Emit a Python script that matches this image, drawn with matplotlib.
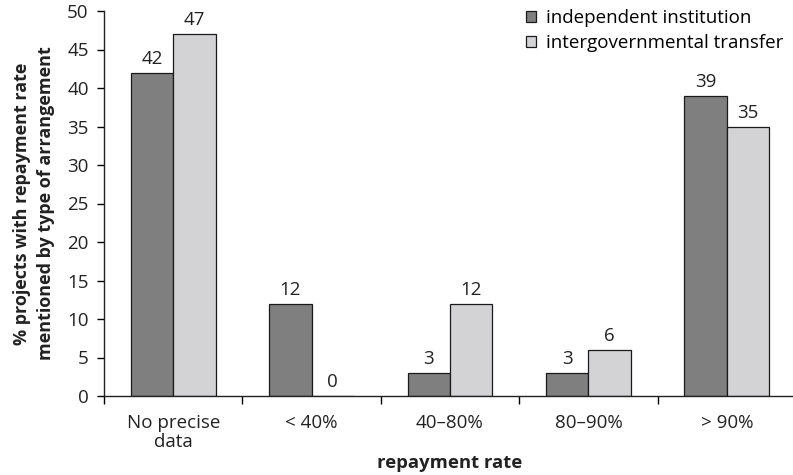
import matplotlib
matplotlib.use("Agg")
import matplotlib.pyplot as plt
from matplotlib.patches import Patch
import numpy as np

plt.rcParams['font.family'] = ['Open Sans', 'DejaVu Sans']

categorias = ["No precise\ndata", "< 40%", "40\u201380%", "80\u201390%", "> 90%"]
independiente = [42, 12, 3, 3, 39]
intergubernamental = [47, 0, 12, 6, 35]
series_nombres = ["independent institution", "intergovernmental transfer"]
color_oscuro = "#7f7f80"
color_claro = "#d3d3d5"

fig = plt.figure(figsize=(7.93, 4.75), dpi=100)
ax = fig.add_axes([104 / 793, 79 / 475, 692 / 793, 385 / 475])

x = np.arange(len(categorias))
ancho = 0.307

b1 = ax.bar(x - ancho / 2, independiente, ancho, color=color_oscuro,
            edgecolor="#1a1a1a", linewidth=0.9)
b2 = ax.bar(x + ancho / 2, intergubernamental, ancho, color=color_claro,
            edgecolor="#1a1a1a", linewidth=0.9)

# etiquetas de valor sobre cada barra
for barras, valores in [(b1, independiente), (b2, intergubernamental)]:
    for barra, v in zip(barras, valores):
        ax.text(barra.get_x() + barra.get_width() / 2, v + 0.6, str(v),
                ha="center", va="bottom", fontsize=13.5, color="#222222")

ax.set_xlim(-0.5, len(categorias) - 0.5)
ax.set_ylim(0, 50)
ax.set_yticks(np.arange(0, 51, 5))

ax.set_xticks(x)
ax.set_xticklabels(categorias, fontsize=13.5, color="#222222", linespacing=1.05)
ax.set_xticks(np.arange(len(categorias) + 1) - 0.5, minor=True)
ax.tick_params(axis="x", which="major", length=0, pad=13)
ax.tick_params(axis="x", which="minor", length=6, width=1.0)
ax.tick_params(axis="y", length=5, width=1.0, pad=6, labelsize=13.5,
               labelcolor="#222222")

for lado in ["top", "right"]:
    ax.spines[lado].set_visible(False)
for lado in ["left", "bottom"]:
    ax.spines[lado].set_linewidth(1.0)
    ax.spines[lado].set_color("#222222")

ax.set_ylabel("% projects with repayment rate\nmentioned by type of arrangement",
              fontsize=13, fontweight="bold", color="#222222", labelpad=9,
              linespacing=1.4)
ax.set_xlabel("repayment rate", fontsize=13.3, fontweight="bold",
              color="#222222", labelpad=2)

manijas = [Patch(facecolor=color_oscuro, edgecolor="#1a1a1a", linewidth=0.9),
           Patch(facecolor=color_claro, edgecolor="#1a1a1a", linewidth=0.9)]
fig.legend(manijas, series_nombres, loc="upper right",
           bbox_to_anchor=(1.0, 1.0), frameon=False, fontsize=13.5,
           handlelength=0.55, handleheight=0.55, handletextpad=0.55,
           labelspacing=0.35, borderaxespad=0.1)

fig.savefig("out.png", dpi=100)
